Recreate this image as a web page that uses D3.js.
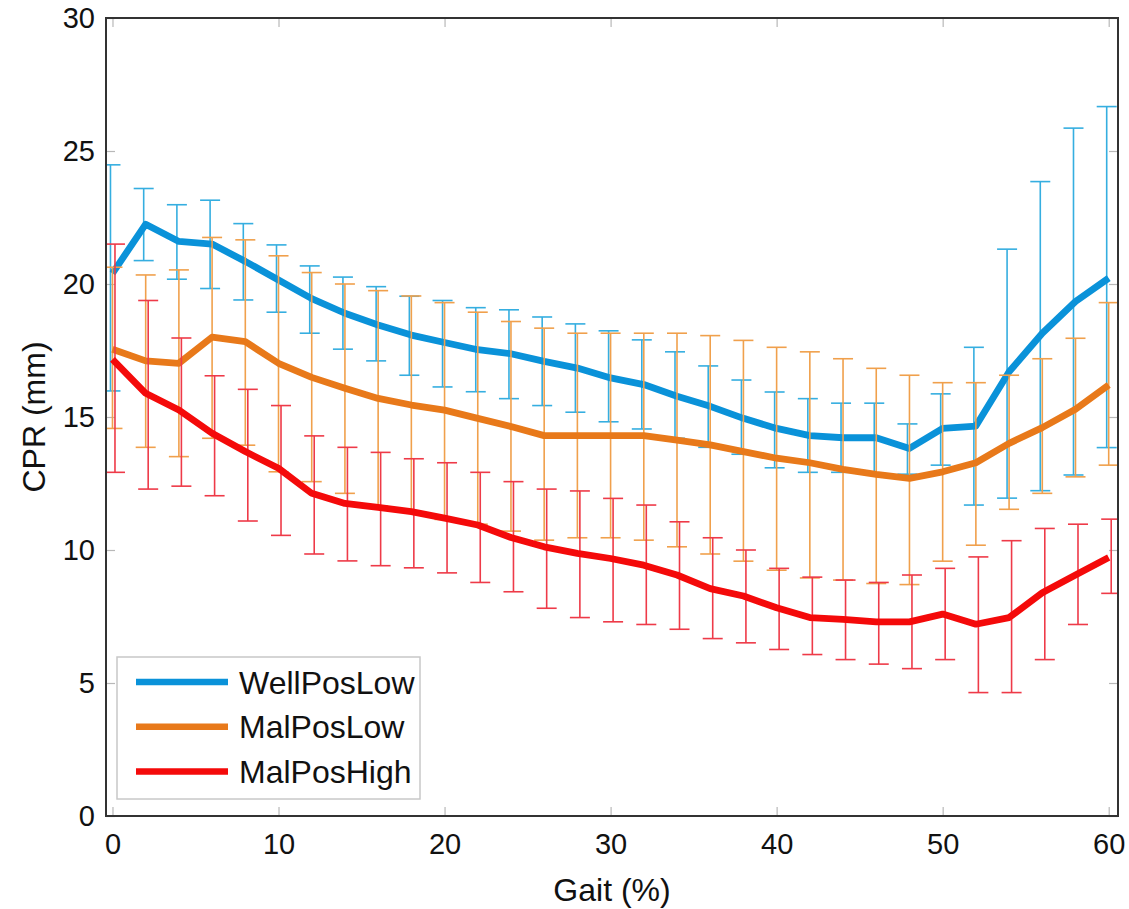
<!DOCTYPE html>
<html>
<head>
<meta charset="utf-8">
<script src="https://cdn.jsdelivr.net/npm/d3@7"></script>
<style>
  body { margin: 0; background: #fff; }
  svg { font-family: "Liberation Sans", Arial, sans-serif; }
</style>
</head>
<body>
<svg id="chart" width="1129" height="909"></svg>
<script>
// gait percentage (x positions of the samples)
const gait = [0, 2, 4, 6, 8, 10, 12, 14, 16, 18, 20, 22, 24, 26, 28, 30,
  32, 34, 36, 38, 40, 42, 44, 46, 48, 50, 52, 54, 56, 58, 60];

// WellPosLow
const wellMean = [20.4, 22.25, 21.6, 21.5, 20.85, 20.15, 19.45, 18.9, 18.46, 18.08, 17.8,
  17.53, 17.38, 17.09, 16.84, 16.47, 16.22, 15.78, 15.4, 14.95, 14.57,
  14.3, 14.22, 14.22, 13.82, 14.57, 14.66, 16.7, 18.15, 19.34, 20.22];
const wellUpper = [24.48, 23.59, 22.98, 23.15, 22.27, 21.47, 20.68, 20.26, 19.9, 19.54, 19.38,
  19.11, 19.03, 18.76, 18.5, 18.24, 17.9, 17.45, 16.92, 16.39, 15.94,
  15.69, 15.52, 15.52, 14.74, 15.87, 17.62, 21.31, 23.85, 25.86, 26.67];
const wellLower = [15.98, 20.88, 20.18, 19.83, 19.4, 18.94, 18.15, 17.55, 17.11, 16.57, 16.13,
  15.95, 15.69, 15.43, 15.18, 14.82, 14.55, 14.2, 13.86, 13.6, 13.09,
  12.92, 12.92, 12.9, 12.85, 13.19, 11.69, 11.95, 12.23, 12.82, 13.85];

// MalPosLow
const malLowMean = [17.55, 17.11, 17.02, 18.0, 17.83, 17.02, 16.49, 16.08, 15.7, 15.45, 15.26,
  14.95, 14.64, 14.3, 14.3, 14.3, 14.3, 14.13, 13.95, 13.7, 13.45,
  13.28, 13.03, 12.84, 12.69, 12.94, 13.28, 14.01, 14.6, 15.29, 16.2];
const malLowUpper = [20.63, 20.34, 20.53, 21.75, 21.66, 21.06, 20.43, 20.0, 19.75, 19.55, 19.3,
  18.94, 18.59, 18.34, 18.15, 18.15, 18.15, 18.15, 18.06, 17.88, 17.62,
  17.45, 17.19, 16.83, 16.57, 16.29, 16.29, 16.57, 17.19, 17.96, 19.3];
const malLowLower = [14.57, 13.86, 13.51, 14.2, 13.94, 12.94, 12.57, 12.13, 11.65, 11.44, 11.15,
  10.97, 10.71, 10.37, 10.46, 10.46, 10.37, 10.12, 9.85, 9.58, 9.24,
  8.95, 8.87, 8.74, 8.7, 9.58, 10.18, 11.53, 12.13, 12.75, 13.19];

// MalPosHigh
const malHighMean = [17.17, 15.89, 15.26, 14.39, 13.7, 13.07, 12.13, 11.75, 11.6, 11.44, 11.2,
  10.94, 10.47, 10.12, 9.87, 9.68, 9.43, 9.06, 8.55, 8.27, 7.83,
  7.46, 7.39, 7.3, 7.3, 7.59, 7.21, 7.46, 8.39, 9.06, 9.72];
const malHighUpper = [21.5, 19.38, 17.97, 16.55, 16.04, 15.43, 14.29, 13.86, 13.67, 13.43, 13.28,
  12.92, 12.57, 12.29, 12.22, 11.94, 11.69, 11.06, 10.46, 10.0, 9.31,
  8.98, 8.87, 8.78, 9.06, 9.31, 9.74, 10.35, 10.81, 10.97, 11.16];
const malHighLower = [12.92, 12.29, 12.4, 12.04, 11.09, 10.55, 9.85, 9.59, 9.41, 9.33, 9.14,
  8.78, 8.43, 7.81, 7.46, 7.3, 7.2, 7.02, 6.67, 6.51, 6.26,
  6.07, 5.88, 5.71, 5.54, 5.88, 4.64, 4.64, 5.88, 7.2, 8.37];

const xTicks = [0, 10, 20, 30, 40, 50, 60];
const yTicks = [0, 5, 10, 15, 20, 25, 30];

const series = [
  { name: "WellPosLow", mean: wellMean, upper: wellUpper, lower: wellLower,
    color: "#0a92d9", barColor: "#35aee0", shift: -2 },
  { name: "MalPosLow", mean: malLowMean, upper: malLowUpper, lower: malLowLower,
    color: "#e8791a", barColor: "#f0a04c", shift: 0 },
  { name: "MalPosHigh", mean: malHighMean, upper: malHighUpper, lower: malHighLower,
    color: "#f40a0a", barColor: "#ee3a48", shift: 2.5 }
];

const svg = d3.select("#chart");
const L = 106, R = 1118, T = 18, B = 816;

const x = d3.scaleLinear().domain([-0.39, 60.56]).range([L, R]);
const y = d3.scaleLinear().domain([0, 30]).range([B, T]);

svg.append("clipPath").attr("id", "plotclip")
  .append("rect").attr("x", L).attr("y", T).attr("width", R - L).attr("height", B - T);

// inward ticks on all four sides
function styleAxis(g) {
  g.select(".domain").remove();
  g.selectAll(".tick line").attr("stroke", "#b8b8b8").attr("stroke-width", 1.2);
  g.selectAll(".tick text").attr("fill", "#111").style("font-size", "29px");
}

svg.append("g").attr("transform", `translate(0,${B})`)
  .call(d3.axisBottom(x).tickValues(xTicks).tickSizeInner(-9).tickSizeOuter(0).tickPadding(17))
  .call(styleAxis);
svg.append("g").attr("transform", `translate(0,${T})`)
  .call(d3.axisTop(x).tickValues(xTicks).tickSizeInner(-9).tickSizeOuter(0).tickFormat(""))
  .call(styleAxis);
svg.append("g").attr("transform", `translate(${L},0)`)
  .call(d3.axisLeft(y).tickValues(yTicks).tickSizeInner(-9).tickSizeOuter(0).tickPadding(11))
  .call(styleAxis);
svg.append("g").attr("transform", `translate(${R},0)`)
  .call(d3.axisRight(y).tickValues(yTicks).tickSizeInner(-9).tickSizeOuter(0).tickFormat(""))
  .call(styleAxis);

const plot = svg.append("g").attr("clip-path", "url(#plotclip)");
const line = d3.line().x((d, i) => x(gait[i])).y(d => y(d));
const cap = 10;

series.forEach(s => {
  const g = plot.append("g");
  const bars = g.selectAll(".bar").data(gait).enter().append("g").attr("class", "bar")
    .attr("stroke", s.barColor).attr("stroke-width", 1.6).attr("fill", "none");
  bars.append("line")
    .attr("x1", d => x(d) + s.shift).attr("x2", d => x(d) + s.shift)
    .attr("y1", (d, i) => y(s.upper[i])).attr("y2", (d, i) => y(s.lower[i]));
  bars.append("line")
    .attr("x1", d => x(d) + s.shift - cap).attr("x2", d => x(d) + s.shift + cap)
    .attr("y1", (d, i) => y(s.upper[i])).attr("y2", (d, i) => y(s.upper[i]));
  bars.append("line")
    .attr("x1", d => x(d) + s.shift - cap).attr("x2", d => x(d) + s.shift + cap)
    .attr("y1", (d, i) => y(s.lower[i])).attr("y2", (d, i) => y(s.lower[i]));
  g.append("path").datum(s.mean)
    .attr("d", line)
    .attr("fill", "none")
    .attr("stroke", s.color)
    .attr("stroke-width", 6.8)
    .attr("stroke-linejoin", "round");
});

// box
svg.append("rect")
  .attr("x", L).attr("y", T).attr("width", R - L).attr("height", B - T)
  .attr("fill", "none").attr("stroke", "#333").attr("stroke-width", 2);

// axis labels
svg.append("text")
  .attr("x", 612).attr("y", 901)
  .attr("text-anchor", "middle")
  .style("font-size", "32px").attr("fill", "#111")
  .text("Gait (%)");
svg.append("text")
  .attr("transform", `translate(45,${(T + B) / 2}) rotate(-90)`)
  .attr("text-anchor", "middle")
  .style("font-size", "32px").attr("fill", "#111")
  .text("CPR (mm)");

// legend
const legend = svg.append("g").attr("transform", "translate(117,657)");
legend.append("rect")
  .attr("width", 303).attr("height", 142)
  .attr("fill", "#fff").attr("stroke", "#c8c8c8").attr("stroke-width", 1.5);
series.forEach((s, i) => {
  const ly = 25 + i * 44.7;
  legend.append("line")
    .attr("x1", 19).attr("x2", 111).attr("y1", ly).attr("y2", ly)
    .attr("stroke", s.color).attr("stroke-width", 6.5);
  legend.append("text")
    .attr("x", 122).attr("y", ly + 11.5)
    .style("font-size", "32px").attr("fill", "#111")
    .text(s.name);
});
</script>
</body>
</html>
